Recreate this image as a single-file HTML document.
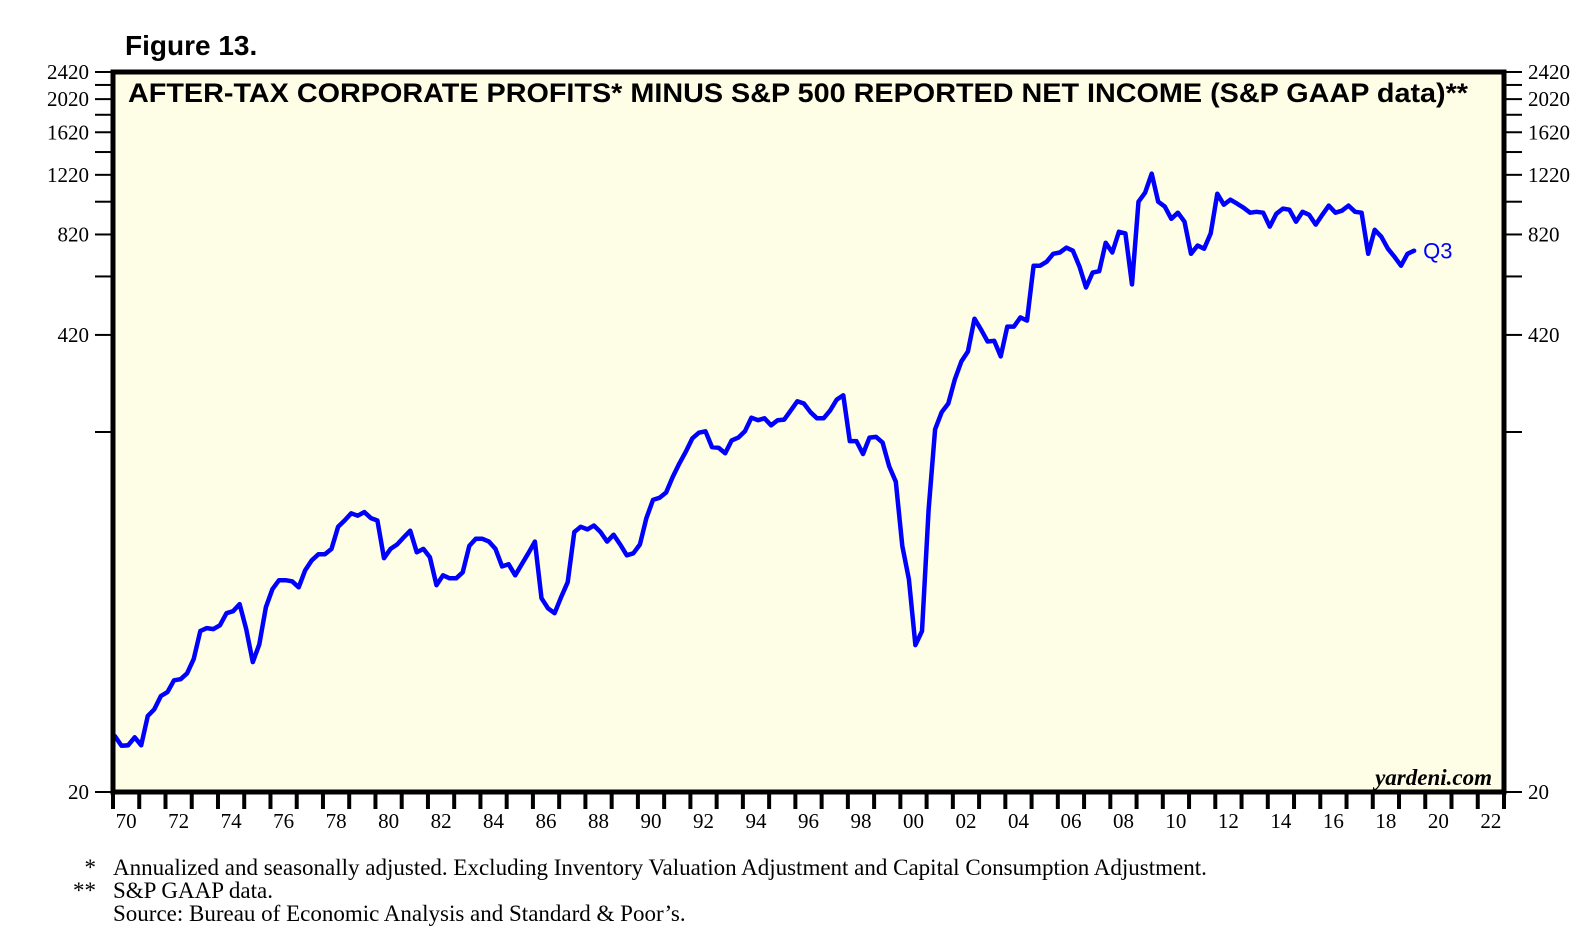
<!DOCTYPE html>
<html>
<head>
<meta charset="utf-8">
<style>
html,body{margin:0;padding:0;background:#fff;}
svg{display:block;}
</style>
</head>
<body>
<svg id="chart" width="1593" height="951" xmlns="http://www.w3.org/2000/svg">
  <text x="125" y="55" font-family="Liberation Sans, sans-serif" font-weight="bold" font-size="28">Figure 13.</text>
  <rect x="113" y="72" width="1391" height="720" fill="#FEFEE6"/>
  <text x="128" y="102" font-family="Liberation Sans, sans-serif" font-weight="bold" font-size="27" textLength="1340" lengthAdjust="spacingAndGlyphs">AFTER-TAX CORPORATE PROFITS* MINUS S&amp;P 500 REPORTED NET INCOME (S&amp;P GAAP data)**</text>
  <text x="1492" y="785" text-anchor="end" font-family="Liberation Serif, serif" font-style="italic" font-weight="bold" font-size="23">yardeni.com</text>
  <g id="series"></g>
  <rect x="113" y="72" width="1391" height="720" fill="none" stroke="#000" stroke-width="5"/>
  <g id="axes"></g>
  <g font-family="Liberation Serif, serif" font-size="23" fill="#000">
    <text x="96" y="875" text-anchor="end">*</text>
    <text x="113" y="875">Annualized and seasonally adjusted. Excluding Inventory Valuation Adjustment and Capital Consumption Adjustment.</text>
    <text x="96" y="898" text-anchor="end">**</text>
    <text x="113" y="898">S&amp;P GAAP data.</text>
    <text x="113" y="921">Source: Bureau of Economic Analysis and Standard &amp; Poor’s.</text>
  </g>
</svg>
<script>
// Data: quarterly, 1970Q1 .. 2019Q3 (billions, log scale)
const startYear = 1970;
const profits = [
29,27.2,27.3,28.8,27.3,33.2,34.7,37.9,38.9,42.1,42.4,44.1,48.5,58.4,59.6,59.2,60.7,65.8,66.7,69.9,
59.2,47.5,53.5,68.5,77.2,82,82,81.4,78.2,87.6,93.6,97.4,97.4,101,117,122,128,126,129,
124,122,94.9,101,104,109,114,98.7,101,95.5,79.3,84.7,83,83,86.4,103,108,108,106,101,
89.9,91.2,84.7,91.2,98.1,106,72.7,68,65.8,73.2,80.9,113,117,115,118,113,106,111,104,96.8,
98.1,104,124,140,142,147,163,178,193,211,219,221,199,198,191,208,212,221,242,238,
241,230,238,239,254,270,266,251,241,241,254,273,281,207,207,190,212,213,
205,175,158,103,82.5,53.2,58.4,131,224,251,266,312,352,376,468,435,402,404,364,444,444,472,
462,666,666,684,721,727,751,736,662,576,636,642,776,727,835,826,588,1020,1083,1230,1020,
987,910,948,893,721,762,746,826,1076,1000,1034,1007,980,948,954,948,864,941,974,967,
893,954,935,876,935,994,948,961,994,954,948,721,846,808,746,707,666,721,736
];
const yTickValues = [20,220,420,620,820,1020,1220,1420,1620,1820,2020,2220,2420];
const yTickLabels = ["20","","420","","820","","1220","","1620","","2020","","2420"];
const xYears = [1970,1971,1972,1973,1974,1975,1976,1977,1978,1979,1980,1981,1982,1983,1984,1985,1986,1987,1988,1989,1990,1991,1992,1993,1994,1995,1996,1997,1998,1999,2000,2001,2002,2003,2004,2005,2006,2007,2008,2009,2010,2011,2012,2013,2014,2015,2016,2017,2018,2019,2020,2021,2022];
const xLabels = ["70","72","74","76","78","80","82","84","86","88","90","92","94","96","98","00","02","04","06","08","10","12","14","16","18","20","22"];
const lastLabel = "Q3";

const NS = "http://www.w3.org/2000/svg";
const L = 113, R = 1504, T = 72, B = 792;
const yMin = 20, yMax = 2420, xMin = 1970, xMax = 2023;
function xScale(t){ return L + (t - xMin) / (xMax - xMin) * (R - L); }
function yScale(v){ return B - (Math.log(v) - Math.log(yMin)) / (Math.log(yMax) - Math.log(yMin)) * (B - T); }
function mk(tag, attrs){ const e = document.createElementNS(NS, tag); for (const k in attrs) e.setAttribute(k, attrs[k]); return e; }

const axes = document.getElementById('axes');
yTickValues.forEach((v, i) => {
  const y = yScale(v);
  const tl = mk('line', {x1: 95, x2: 111, y1: y, y2: y, stroke: '#000', 'stroke-width': 2});
  
  
  axes.appendChild(tl);
  const tr = mk('line', {x1: 1506, x2: 1522, y1: y, y2: y, stroke: '#000', 'stroke-width': 2});
  
  
  axes.appendChild(tr);
  if (yTickLabels[i]) {
    const a = mk('text', {x: 89, y: y + 7, 'text-anchor': 'end', 'font-family': 'Liberation Serif, serif', 'font-size': 21});
    a.textContent = yTickLabels[i];
    
    
    axes.appendChild(a);
    const b = mk('text', {x: 1528, y: y + 7, 'font-family': 'Liberation Serif, serif', 'font-size': 21});
    b.textContent = yTickLabels[i];
    
    
    axes.appendChild(b);
  }
});
xYears.forEach(yr => {
  const x = xScale(yr);
  const t = mk('line', {x1: x, x2: x, y1: 792, y2: 809, stroke: '#000', 'stroke-width': 4});
  
  
  axes.appendChild(t);
});
const tEnd = mk('line', {x1: R, x2: R, y1: 792, y2: 809, stroke: '#000', 'stroke-width': 4});


axes.appendChild(tEnd);
xLabels.forEach((lab, i) => {
  const yr = 1970 + 2 * i;
  const tx = mk('text', {x: xScale(yr + 0.5), y: 828, 'text-anchor': 'middle', 'font-family': 'Liberation Serif, serif', 'font-size': 21});
  tx.textContent = lab;
  
  
  axes.appendChild(tx);
});

const series = document.getElementById('series');
let d = '';
let lx = 0, ly = 0;
profits.forEach((v, i) => {
  const x = xScale(startYear + (i + 0.3) / 4);
  const y = yScale(v);
  d += (i ? 'L' : 'M') + x.toFixed(1) + ' ' + y.toFixed(1);
  lx = x; ly = y;
});
const path = mk('path', {d: d, fill: 'none', stroke: '#0000FF', 'stroke-width': 4.5, 'stroke-linejoin': 'round', 'stroke-linecap': 'round'});


series.appendChild(path);
const ql = mk('text', {x: lx + 9, y: ly + 8, fill: '#0000FF', 'font-family': 'Liberation Sans, sans-serif', 'font-size': 22});
ql.textContent = lastLabel;


series.appendChild(ql);
</script>
</body>
</html>
